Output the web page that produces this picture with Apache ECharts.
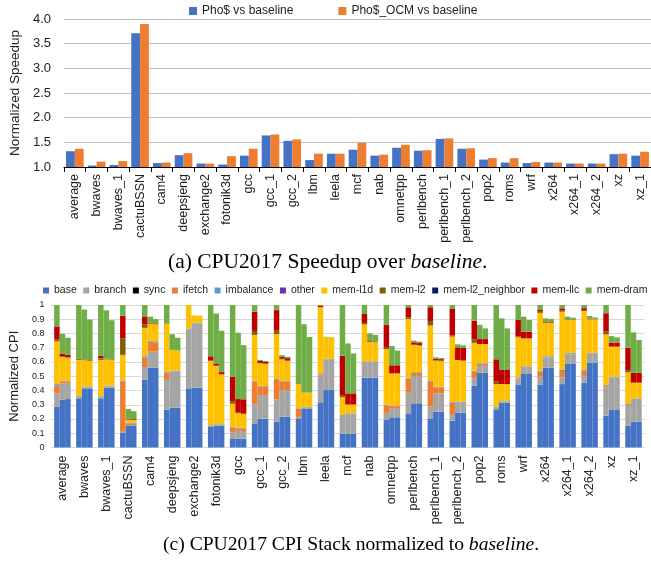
<!DOCTYPE html>
<html lang="en">
  <head>
    <meta charset="UTF-8" />
    <title>CPU2017 Speedup and CPI Stack</title>
    <script src="https://cdn.jsdelivr.net/npm/echarts@6/dist/echarts.min.js"></script>
    <style>
      body {
        margin: 0;
        background: #fff;
      }
      #chart {
        width: 651px;
        height: 561px;
      }
    </style>
  </head>
  <body>
    <div id="chart"></div>

    <script>
      var benchmarks = ["average", "bwaves", "bwaves_1", "cactuBSSN", "cam4", "deepsjeng", "exchange2", "fotonik3d", "gcc", "gcc_1", "gcc_2", "lbm", "leela", "mcf", "nab", "omnetpp", "perlbench", "perlbench_1", "perlbench_2", "pop2", "roms", "wrf", "x264", "x264_1", "x264_2", "xz", "xz_1"];

      // (a) speedup over baseline
      var phoSpeedup = [1.32, 1.03, 1.04, 3.71, 1.08, 1.24, 1.07, 1.05, 1.23, 1.64, 1.53, 1.14, 1.27, 1.35, 1.23, 1.39, 1.33, 1.57, 1.37, 1.15, 1.09, 1.08, 1.09, 1.07, 1.07, 1.26, 1.23];
      var ocmSpeedup = [1.37, 1.11, 1.12, 3.9, 1.09, 1.28, 1.07, 1.22, 1.37, 1.66, 1.56, 1.27, 1.27, 1.49, 1.25, 1.45, 1.34, 1.58, 1.38, 1.18, 1.18, 1.1, 1.09, 1.07, 1.07, 1.27, 1.31];

      // (c) CPI stack, each entry = [baseline, Pho$, Pho$_OCM]
      var base = [[0.285, 0.335, 0.34], [0.345, 0.415, 0.415], [0.345, 0.42, 0.42], [0.105, 0.155, 0.155], [0.475, 0.56, 0.56], [0.265, 0.28, 0.28], [0.415, 0.42, 0.42], [0.145, 0.153, 0.153], [0.064, 0.062, 0.062], [0.165, 0.202, 0.202], [0.18, 0.216, 0.216], [0.2, 0.27, 0.27], [0.317, 0.403, 0.403], [0.097, 0.097, 0.097], [0.49, 0.49, 0.49], [0.193, 0.212, 0.212], [0.235, 0.31, 0.31], [0.2, 0.251, 0.251], [0.188, 0.245, 0.245], [0.434, 0.525, 0.525], [0.268, 0.315, 0.315], [0.439, 0.52, 0.52], [0.439, 0.56, 0.56], [0.445, 0.586, 0.586], [0.455, 0.595, 0.595], [0.223, 0.263, 0.263], [0.153, 0.181, 0.181]];
      var branch = [[0.095, 0.115, 0.11], [0.01, 0.008, 0.008], [0.01, 0.008, 0.008], [0.005, 0.003, 0.003], [0.09, 0.113, 0.113], [0.21, 0.255, 0.255], [0.415, 0.45, 0.45], [0.008, 0.007, 0.007], [0.042, 0.055, 0.054], [0.138, 0.166, 0.166], [0.158, 0.187, 0.187], [0.015, 0.01, 0.01], [0.19, 0.215, 0.215], [0.126, 0.138, 0.138], [0.11, 0.11, 0.11], [0.05, 0.06, 0.06], [0.15, 0.192, 0.192], [0.087, 0.129, 0.129], [0.047, 0.07, 0.07], [0.051, 0.054, 0.054], [0.012, 0.007, 0.007], [0.046, 0.046, 0.046], [0.058, 0.073, 0.073], [0.047, 0.068, 0.068], [0.047, 0.061, 0.061], [0.199, 0.229, 0.229], [0.141, 0.159, 0.159]];
      var sync = [[0, 0, 0], [0, 0, 0], [0, 0, 0], [0, 0, 0], [0, 0, 0], [0, 0, 0], [0, 0, 0], [0, 0, 0], [0, 0, 0], [0, 0, 0], [0, 0, 0], [0, 0, 0], [0, 0, 0], [0, 0, 0], [0, 0, 0], [0, 0, 0], [0, 0, 0], [0, 0, 0], [0, 0, 0], [0, 0, 0], [0, 0, 0], [0, 0, 0], [0, 0, 0], [0, 0, 0], [0, 0, 0], [0, 0, 0], [0, 0, 0]];
      var ifetch = [[0.055, 0.015, 0.01], [0, 0, 0], [0, 0, 0], [0.355, 0.01, 0.01], [0.065, 0.07, 0.065], [0.05, 0, 0], [0, 0, 0], [0, 0, 0], [0.035, 0.018, 0.018], [0.16, 0.06, 0.058], [0.136, 0.06, 0.058], [0.055, 0, 0], [0.008, 0, 0], [0, 0, 0], [0, 0, 0], [0.052, 0.018, 0.018], [0.1, 0.023, 0.023], [0.178, 0.042, 0.042], [0.08, 0, 0], [0.05, 0.007, 0.007], [0, 0, 0], [0.003, 0, 0], [0.035, 0, 0], [0.045, 0.004, 0.004], [0.037, 0.003, 0.003], [0.012, 0, 0], [0.011, 0, 0]];
      var imbalance = [[0.01, 0.005, 0.005], [0.005, 0.005, 0.005], [0.005, 0.005, 0.005], [0.005, 0.005, 0.005], [0.01, 0.007, 0.007], [0.005, 0.005, 0.005], [0.005, 0.005, 0.005], [0.004, 0.004, 0.004], [0.006, 0.005, 0.005], [0.007, 0.005, 0.005], [0.006, 0.005, 0.005], [0.005, 0.005, 0.005], [0.005, 0.004, 0.004], [0.005, 0.004, 0.004], [0.004, 0.004, 0.004], [0.005, 0.004, 0.004], [0.005, 0.005, 0.005], [0.006, 0.004, 0.004], [0.005, 0.005, 0.005], [0.005, 0.005, 0.005], [0.005, 0.004, 0.004], [0.005, 0.004, 0.004], [0.008, 0.007, 0.007], [0.008, 0.006, 0.006], [0.008, 0.006, 0.006], [0.005, 0.004, 0.004], [0.005, 0.004, 0.004]];
      var other = [[0, 0, 0], [0, 0, 0], [0, 0, 0], [0, 0, 0], [0, 0, 0], [0, 0, 0], [0, 0, 0], [0, 0, 0], [0, 0, 0], [0, 0, 0], [0, 0, 0], [0, 0, 0], [0, 0, 0], [0, 0, 0], [0, 0, 0], [0, 0, 0], [0, 0, 0], [0, 0, 0], [0, 0, 0], [0, 0, 0], [0, 0, 0], [0, 0, 0], [0, 0, 0], [0, 0, 0], [0, 0, 0], [0, 0, 0], [0, 0, 0]];
      var memL1d = [[0.3, 0.165, 0.165], [0.255, 0.185, 0.18], [0.255, 0.185, 0.18], [0.18, 0.022, 0.022], [0.2, 0.12, 0.12], [0.34, 0.145, 0.14], [0.165, 0.052, 0.05], [0.45, 0.41, 0.35], [0.16, 0.1, 0.095], [0.32, 0.157, 0.155], [0.316, 0.15, 0.14], [0.17, 0.1, 0.1], [0.465, 0.152, 0.15], [0.124, 0.061, 0.061], [0.26, 0.138, 0.135], [0.39, 0.226, 0.226], [0.412, 0.189, 0.185], [0.385, 0.183, 0.18], [0.458, 0.294, 0.29], [0.195, 0.135, 0.135], [0.16, 0.119, 0.119], [0.28, 0.196, 0.196], [0.405, 0.236, 0.236], [0.408, 0.231, 0.231], [0.41, 0.235, 0.235], [0.355, 0.212, 0.212], [0.217, 0.111, 0.111]];
      var memL2 = [[0.015, 0.003, 0.005], [0.01, 0.005, 0.005], [0.01, 0.005, 0.005], [0.115, 0.002, 0], [0.025, 0, 0], [0.005, 0, 0], [0, 0, 0], [0.003, 0, 0], [0.015, 0.005, 0.004], [0.028, 0.004, 0.003], [0.028, 0.005, 0.004], [0, 0, 0], [0, 0, 0], [0.016, 0.002, 0.002], [0.01, 0, 0], [0.01, 0, 0], [0.011, 0.003, 0.003], [0.032, 0.004, 0.004], [0.009, 0, 0], [0.023, 0, 0], [0.017, 0, 0], [0.007, 0, 0], [0.008, 0, 0], [0.007, 0, 0], [0.006, 0, 0], [0.019, 0, 0], [0.012, 0, 0]];
      var memL2Neighbor = [[0, 0, 0], [0, 0, 0], [0, 0, 0], [0, 0, 0], [0, 0, 0], [0, 0, 0], [0, 0, 0], [0, 0, 0], [0, 0, 0], [0, 0, 0], [0, 0, 0], [0, 0, 0], [0, 0, 0], [0, 0, 0], [0, 0, 0], [0, 0, 0], [0, 0, 0], [0, 0, 0], [0, 0, 0], [0, 0, 0], [0, 0, 0], [0, 0, 0], [0, 0, 0], [0, 0, 0], [0, 0, 0], [0, 0, 0], [0, 0, 0]];
      var memLlc = [[0.09, 0.02, 0.015], [0, 0, 0], [0.02, 0, 0], [0.16, 0.005, 0.005], [0.055, 0.005, 0.006], [0.003, 0, 0], [0, 0, 0], [0.03, 0.016, 0.015], [0.175, 0.095, 0.1], [0.135, 0.013, 0.011], [0.14, 0.013, 0.017], [0.005, 0, 0], [0.01, 0, 0], [0.276, 0.078, 0.078], [0.063, 0.005, 0.004], [0.16, 0.057, 0.057], [0.071, 0.016, 0.015], [0.096, 0.01, 0.01], [0.185, 0.089, 0.089], [0.131, 0.035, 0.035], [0.157, 0.099, 0.099], [0.115, 0.047, 0.047], [0.012, 0.005, 0.005], [0.017, 0.003, 0.003], [0.015, 0.003, 0.003], [0.129, 0.028, 0.028], [0.161, 0.07, 0.07]];
      var memDram = [[0.15, 0.14, 0.12], [0.375, 0.35, 0.285], [0.355, 0.34, 0.275], [0.075, 0.068, 0.055], [0.08, 0.043, 0.03], [0.122, 0.11, 0.09], [0, 0, 0], [0.36, 0.35, 0.29], [0.503, 0.466, 0.38], [0.047, 0.008, 0.007], [0.036, 0.012, 0.01], [0.55, 0.48, 0.39], [0.005, 0.003, 0.002], [0.356, 0.35, 0.28], [0.063, 0.053, 0.047], [0.14, 0.135, 0.103], [0.016, 0.012, 0.01], [0.016, 0.01, 0.008], [0.028, 0.021, 0.018], [0.111, 0.1, 0.075], [0.381, 0.362, 0.292], [0.105, 0.105, 0.082], [0.035, 0.025, 0.021], [0.023, 0.02, 0.013], [0.022, 0.02, 0.01], [0.058, 0.046, 0.037], [0.3, 0.283, 0.229]];

      var stackNames = ["base", "branch", "sync", "ifetch", "imbalance", "other", "mem-l1d", "mem-l2", "mem-l2_neighbor", "mem-llc", "mem-dram"];
      var stackData = [base, branch, sync, ifetch, imbalance, other, memL1d, memL2, memL2Neighbor, memLlc, memDram];
      var stackColors = ["#4472C4", "#A5A5A5", "#000000", "#ED7D31", "#5B9BD5", "#7030A0", "#FFC000", "#7F6000", "#002060", "#C00000", "#70AD47"];

      var sans = "Liberation Sans";
      var serif = "Liberation Serif";

      var chart = echarts.init(document.getElementById("chart"));

      var series = [
        {
          type: "bar",
          name: "Pho$ vs baseline",
          data: phoSpeedup,
          itemStyle: { color: "#4472C4" },
          barGap: "0%",
          barCategoryGap: "19%",
        },
        {
          type: "bar",
          name: "Pho$_OCM vs baseline",
          data: ocmSpeedup,
          itemStyle: { color: "#ED7D31" },
          barGap: "0%",
          barCategoryGap: "19%",
        },
      ];

      // three stacks per benchmark: baseline / Pho$ / Pho$_OCM
      stackNames.forEach(function (name, i) {
        for (var c = 0; c < 3; c++) {
          series.push({
            type: "bar",
            name: name,
            xAxisIndex: 1,
            yAxisIndex: 1,
            stack: "cfg" + c,
            data: stackData[i].map(function (t) {
              return t[c];
            }),
            itemStyle: { color: stackColors[i] },
            barGap: "0%",
            barCategoryGap: "25%",
          });
        }
      });

      function captionRich(size) {
        return {
          n: { fontFamily: serif, fontSize: size, fontWeight: "normal", color: "#000" },
          i: { fontFamily: serif, fontSize: size, fontWeight: "normal", fontStyle: "italic", color: "#000" },
        };
      }

      var option = {
        animation: false,
        backgroundColor: "#fff",
        title: [
          {
            text: "{n|(a) CPU2017 Speedup over }{i|baseline}{n|.}",
            left: 168,
            top: 251,
            padding: 0,
            textStyle: { fontWeight: "normal", rich: captionRich(21.5) },
          },
          {
            text: "{n|(c) CPU2017 CPI Stack normalized to }{i|baseline}{n|.}",
            left: 163,
            top: 535,
            padding: 0,
            textStyle: { fontWeight: "normal", rich: captionRich(19.6) },
          },
        ],
        legend: [
          {
            data: ["Pho$ vs baseline", "Pho$_OCM vs baseline"],
            left: 189,
            top: 5,
            padding: 0,
            icon: "rect",
            itemWidth: 8,
            itemHeight: 8,
            itemGap: 45,
            textStyle: { fontFamily: sans, fontSize: 12, color: "#222" },
          },
          {
            data: stackNames,
            left: 43,
            top: 285,
            width: 630,
            padding: 0,
            icon: "rect",
            itemWidth: 6,
            itemHeight: 6,
            itemGap: 6.5,
            textStyle: { fontFamily: sans, fontSize: 10.5, color: "#222" },
          },
        ],
        grid: [
          { left: 53, top: 19, width: 602, height: 148 },
          { left: 46.5, top: 305, width: 598, height: 142.5 },
        ],
        xAxis: [
          {
            type: "category",
            gridIndex: 0,
            data: benchmarks,
            axisLine: { lineStyle: { color: "#000", width: 1 } },
            axisTick: { show: true, alignWithLabel: false, length: 5, lineStyle: { color: "#000" } },
            axisLabel: { rotate: 90, margin: 7, interval: 0, fontFamily: sans, fontSize: 12.5, color: "#222" },
          },
          {
            type: "category",
            gridIndex: 1,
            data: benchmarks,
            axisLine: { lineStyle: { color: "#D9D9D9", width: 1 } },
            axisTick: { show: false },
            axisLabel: { rotate: 90, margin: 8, interval: 0, fontFamily: sans, fontSize: 12.5, color: "#222" },
          },
        ],
        yAxis: [
          {
            type: "value",
            gridIndex: 0,
            min: 1,
            max: 4,
            interval: 0.5,
            name: "Normalized Speedup",
            nameLocation: "middle",
            nameGap: 32,
            nameTextStyle: { fontFamily: sans, fontSize: 13.5, color: "#222" },
            axisLine: { show: false },
            axisTick: { show: false },
            splitLine: { lineStyle: { color: "#BFBFBF", width: 1 } },
            axisLabel: {
              margin: 13,
              fontFamily: sans,
              fontSize: 13,
              color: "#222",
              formatter: function (v) {
                return v.toFixed(1);
              },
            },
          },
          {
            type: "value",
            gridIndex: 1,
            min: 0,
            max: 1,
            interval: 0.1,
            name: "Normalized CPI",
            nameLocation: "middle",
            nameGap: 25,
            nameTextStyle: { fontFamily: sans, fontSize: 13, color: "#222" },
            axisLine: { show: false },
            axisTick: { show: false },
            splitLine: { lineStyle: { color: "#D9D9D9", width: 1 } },
            axisLabel: {
              margin: 7,
              fontFamily: sans,
              fontSize: 9,
              color: "#222",
              formatter: function (v) {
                return v === 0 || v === 1 ? String(v) : v.toFixed(1);
              },
            },
          },
        ],
        series: series,
      };

      chart.setOption(option);
    </script>
  </body>
</html>
